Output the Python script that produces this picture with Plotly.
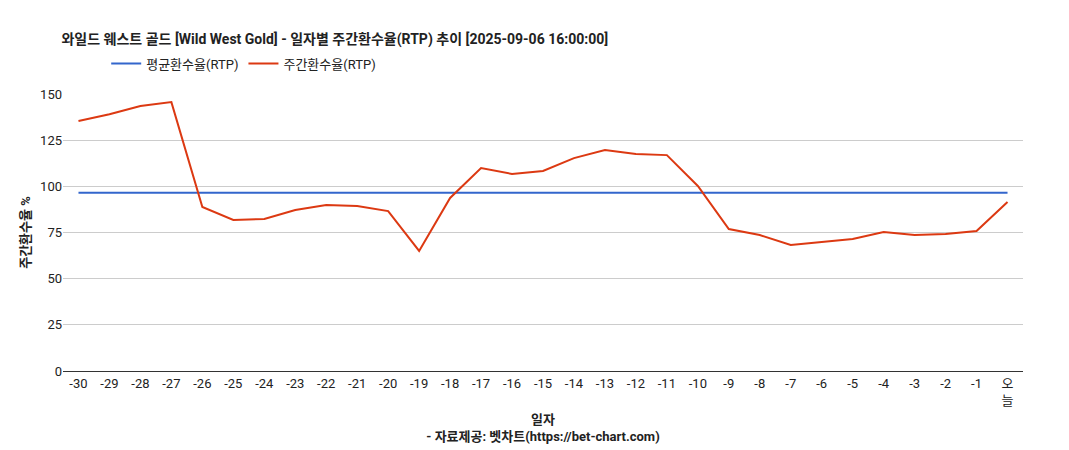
import plotly.graph_objects as go

days = [str(d) for d in range(-30, 0)] + ["오<br>늘"]
avg_rtp = [96.5] * 31
weekly_rtp = [135.4, 139.0, 143.5, 145.6, 88.8, 81.8, 82.3, 87.2, 89.9, 89.3,
              86.6, 65.0, 93.7, 109.9, 106.7, 108.3, 115.3, 119.7, 117.5, 116.9,
              100.2, 76.9, 73.6, 68.2, 69.8, 71.5, 75.3, 73.6, 74.2, 75.8, 91.5]

FONT = "Roboto, 'Noto Sans CJK KR', sans-serif"

fig = go.Figure()
fig.add_scatter(x=days, y=avg_rtp, mode="lines", name="평균환수율(RTP)",
                line=dict(color="#3366cc", width=2))
fig.add_scatter(x=days, y=weekly_rtp, mode="lines", name="주간환수율(RTP)",
                line=dict(color="#dc3912", width=2))
fig.update_layout(
    width=1069, height=450, template="plotly_white",
    font=dict(family=FONT, size=13, color="#222"),
    title=dict(text="<b>와일드 웨스트 골드 [Wild West Gold] - 일자별 주간환수율(RTP) 추이 [2025-09-06 16:00:00]</b>",
               x=0.05, xanchor="left", y=0.93, yanchor="middle", font=dict(size=14)),
    legend=dict(orientation="h", x=0.045, y=1.11, xanchor="left", yanchor="middle",
                font=dict(size=13)),
    margin=dict(l=55, r=54, t=86, b=87),
    xaxis=dict(title=dict(text="<b>일자</b><br><b>- 자료제공: 벳차트(https://bet-chart.com)</b>",
                          font=dict(size=13), standoff=8),
               range=[-0.5, 30.5], showgrid=False, showline=True, linecolor="#333",
               tickfont=dict(size=13), tickangle=0, automargin=False),
    yaxis=dict(title=dict(text="<b>주간환수율 %</b>", font=dict(size=13), standoff=6),
               range=[0, 150], dtick=25, gridcolor="#ccc", zeroline=False,
               showline=False, tickfont=dict(size=13), automargin=False),
    hovermode="x",
)
fig.write_html("out.html")
